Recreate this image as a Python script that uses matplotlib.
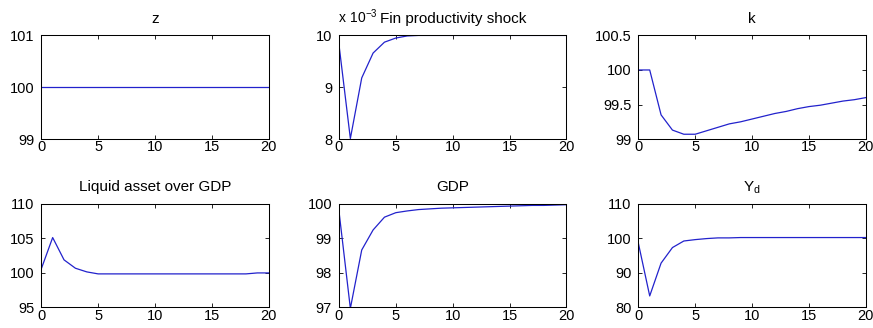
import matplotlib

matplotlib.use("Agg")
import matplotlib.pyplot as plt

plt.rcParams["font.family"] = ["Liberation Sans", "DejaVu Sans"]
plt.rcParams["font.size"] = 10

periods = list(range(21))

z_vals = [100.0] * 21

# financial productivity shock, actual units (shown as x 10^-3)
fin_shock = [9.82e-3, 8.01e-3, 9.18e-3, 9.66e-3, 9.87e-3, 9.95e-3, 9.99e-3,
             10.0e-3, 10.0e-3, 10.0e-3, 10.0e-3, 10.0e-3, 10.0e-3, 10.0e-3,
             10.0e-3, 10.0e-3, 10.0e-3, 10.0e-3, 10.0e-3, 10.0e-3, 10.0e-3]
FIN_SCALE = 1e-3

k_vals = [100.0, 100.0, 99.35, 99.13, 99.07, 99.07, 99.12, 99.17, 99.22, 99.25,
          99.29, 99.33, 99.37, 99.40, 99.44, 99.47, 99.49, 99.52, 99.55, 99.57,
          99.60]

liquid_vals = [100.57, 105.1, 101.87, 100.66, 100.13, 99.84, 99.84, 99.84, 99.84,
               99.84, 99.84, 99.84, 99.84, 99.84, 99.84, 99.84, 99.84, 99.84,
               99.84, 99.98, 99.98]

gdp_vals = [99.78, 96.97, 98.66, 99.24, 99.61, 99.74, 99.79, 99.83, 99.85, 99.87,
            99.88, 99.89, 99.90, 99.91, 99.92, 99.93, 99.94, 99.95, 99.95, 99.96,
            99.97]

yd_vals = [98.6, 83.3, 92.8, 97.3, 99.2, 99.6, 99.9, 100.1, 100.1, 100.2, 100.2,
           100.2, 100.2, 100.2, 100.2, 100.2, 100.2, 100.2, 100.2, 100.2, 100.2]

panels = [
    ("z", z_vals, (99, 101), [99, 100, 101], ["99", "100", "101"]),
    ("Fin productivity shock", [v / FIN_SCALE for v in fin_shock], (8, 10), [8, 9, 10], ["8", "9", "10"]),
    ("k", k_vals, (99, 100.5), [99, 99.5, 100, 100.5], ["99", "99.5", "100", "100.5"]),
    ("Liquid asset over GDP", liquid_vals, (95, 110), [95, 100, 105, 110], ["95", "100", "105", "110"]),
    ("GDP", gdp_vals, (97, 100), [97, 98, 99, 100], ["97", "98", "99", "100"]),
    (r"$\mathregular{Y_d}$", yd_vals, (80, 110), [80, 90, 100, 110], ["80", "90", "100", "110"]),
]

lefts = [0.0473, 0.3883, 0.7312]
bottoms = [0.576, 0.063]
width = 0.2605
height = 0.316

fig = plt.figure(figsize=(8.73, 3.28), dpi=100)

for i, (title, vals, ylim, yticks, ylabels) in enumerate(panels):
    row, col = divmod(i, 3)
    ax = fig.add_axes([lefts[col], bottoms[row], width, height])
    ax.plot(periods, vals, color="#2222cc", linewidth=0.9)
    ax.set_xlim(0, 20)
    ax.set_ylim(*ylim)
    ax.set_xticks([0, 5, 10, 15, 20])
    ax.set_yticks(yticks)
    ax.set_yticklabels(ylabels)
    ax.tick_params(direction="in", length=3, width=0.6, top=True, right=True,
                   labelsize=10.5)
    ax.tick_params(axis="x", pad=1)
    ax.tick_params(axis="y", pad=5)
    for sp in ax.spines.values():
        sp.set_linewidth(0.75)
    ax.set_title(title, fontsize=11, pad=9)
    if i == 1:
        ax.text(-0.005, 1.09, r"$\mathregular{x\ 10^{-3}}$", transform=ax.transAxes,
                ha="left", va="bottom", fontsize=10)

fig.savefig("out.png", dpi=100)
